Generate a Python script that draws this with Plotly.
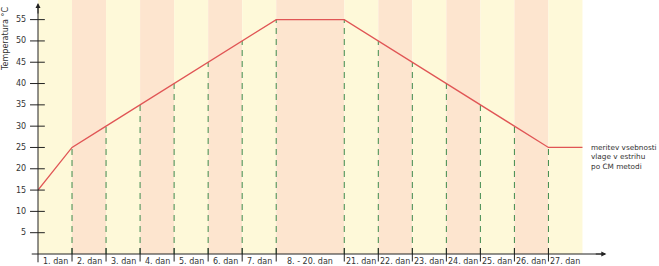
import plotly.graph_objects as go

# Data
day_labels = ["1. dan", "2. dan", "3. dan", "4. dan", "5. dan", "6. dan", "7. dan",
              "8. - 20. dan", "21. dan", "22. dan", "23. dan", "24. dan", "25. dan",
              "26. dan", "27. dan"]
band_widths = [1, 1, 1, 1, 1, 1, 1, 2, 1, 1, 1, 1, 1, 1, 1]
temperatures = [15, 25, 30, 35, 40, 45, 50, 55, 55, 50, 45, 40, 35, 30, 25, 25]
y_ticks = [5, 10, 15, 20, 25, 30, 35, 40, 45, 50, 55]
note_text = "meritev vsebnosti<br>vlage v estrihu<br>po CM metodi"

# boundaries derived from band widths
bounds = [0]
for w in band_widths:
    bounds.append(bounds[-1] + w)

YELLOW = "#fef9d9"
PEACH = "#fde5cf"
RED = "#e05555"
GREEN = "#3f8a4c"
TXT = "#333333"
AX = "#222222"
FONT = "DejaVu Sans"

XMAX = 16.75
YMAX = 58.9

fig = go.Figure()
shapes = []
annotations = []

# background bands
for i in range(len(band_widths)):
    shapes.append(dict(type="rect", xref="x", yref="paper", x0=bounds[i], x1=bounds[i + 1],
                       y0=0, y1=1.02, fillcolor=YELLOW if i % 2 == 0 else PEACH,
                       line=dict(width=0), layer="below"))
    annotations.append(dict(x=(bounds[i] + bounds[i + 1]) / 2, y=0, xref="x", yref="paper",
                            text=day_labels[i], showarrow=False, yanchor="top", yshift=-1,
                            font=dict(family=FONT, size=8, color=TXT)))

# dashed green verticals
for b, t in zip(bounds[1:-1], temperatures[1:-1]):
    fig.add_trace(go.Scatter(x=[b, b], y=[0, t], mode="lines",
                             line=dict(color=GREEN, width=1, dash="6px,5px"),
                             hoverinfo="skip", showlegend=False))

# temperature line
fig.add_trace(go.Scatter(x=bounds, y=temperatures, mode="lines",
                         line=dict(color=RED, width=1.3), showlegend=False))

# x ticks crossing axis
for b in bounds[1:-1]:
    shapes.append(dict(type="line", xref="x", yref="paper", x0=b, x1=b, y0=0.024, y1=-0.03,
                       line=dict(color=AX, width=1)))
# y ticks crossing axis
for v in y_ticks:
    shapes.append(dict(type="line", xref="paper", yref="y", x0=-0.014, x1=0.012, y0=v, y1=v,
                       line=dict(color=AX, width=1)))
    annotations.append(dict(x=0, y=v, xref="paper", yref="y", text=str(v), showarrow=False,
                            xanchor="right", xshift=-10, font=dict(family=FONT, size=8, color=TXT)))

# axes lines
shapes.append(dict(type="line", xref="paper", yref="paper", x0=-0.011, x1=0.995, y0=0, y1=0,
                   line=dict(color=AX, width=1)))
shapes.append(dict(type="line", xref="paper", yref="paper", x0=0, x1=0, y0=-0.033, y1=0.99,
                   line=dict(color=AX, width=1)))
# arrows
annotations.append(dict(x=0, y=1, xref="paper", yref="paper", ax=0, ay=12, showarrow=True,
                        arrowhead=2, arrowsize=1, arrowwidth=1, arrowcolor=AX, text=""))
annotations.append(dict(x=0.997, y=0, xref="paper", yref="paper", ax=-12, ay=0, showarrow=True,
                        arrowhead=2, arrowsize=1, arrowwidth=1, arrowcolor=AX, text=""))

# titles / notes
annotations.append(dict(x=-0.058, y=1, xref="paper", yref="paper", text="Temperatura °C",
                        textangle=-90, showarrow=False, xanchor="center", yanchor="top",
                        yshift=-2, font=dict(family=FONT, size=8, color=TXT)))
annotations.append(dict(x=0.9665, y=25, xref="paper", yref="y", text=note_text, showarrow=False,
                        xanchor="left", yanchor="top", yshift=6, align="left",
                        font=dict(family=FONT, size=7.3, color=TXT)))

fig.update_layout(
    width=659, height=266,
    margin=dict(l=38, r=51, t=3, b=12),
    paper_bgcolor="white", plot_bgcolor="white",
    xaxis=dict(range=[0, XMAX], showgrid=False, zeroline=False, showticklabels=False,
               ticks="", showline=False, fixedrange=True),
    yaxis=dict(range=[0, YMAX], showgrid=False, zeroline=False, showticklabels=False,
               ticks="", showline=False, fixedrange=True),
    shapes=shapes, annotations=annotations, showlegend=False,
)

fig.write_html("out.html")
